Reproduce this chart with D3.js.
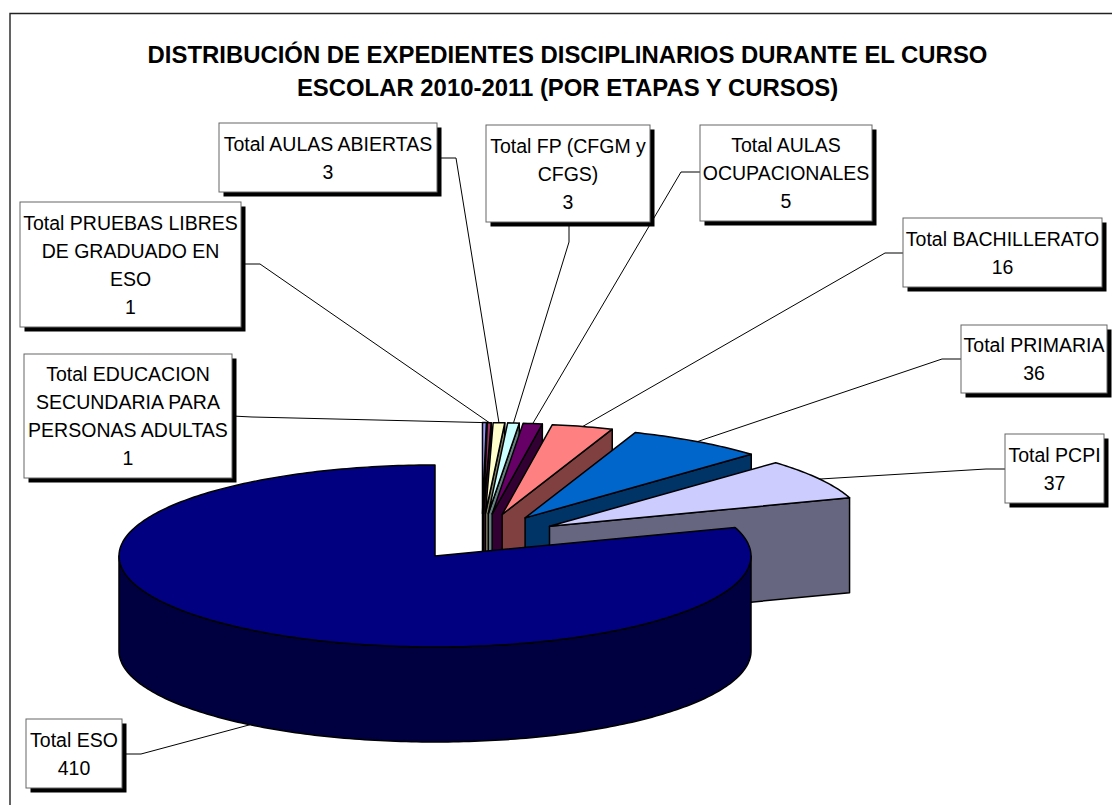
<!DOCTYPE html>
<html><head><meta charset="utf-8">
<script src="https://d3js.org/d3.v7.min.js"></script>
<style>html,body{margin:0;padding:0;background:#fff}svg{display:block}text{font-family:"Liberation Sans",Arial,sans-serif;fill:#000}</style>
</head><body><svg id="c" width="1112" height="805"></svg>
<script>
const titleLines = ["DISTRIBUCIÓN DE EXPEDIENTES DISCIPLINARIOS DURANTE EL CURSO","ESCOLAR 2010-2011 (POR ETAPAS Y CURSOS)"];
const categories = ["Total EDUCACION SECUNDARIA PARA PERSONAS ADULTAS","Total PRUEBAS LIBRES DE GRADUADO EN ESO","Total AULAS ABIERTAS","Total FP (CFGM y CFGS)","Total AULAS OCUPACIONALES","Total BACHILLERATO","Total PRIMARIA","Total PCPI","Total ESO"];
const values = [1,1,3,3,5,16,36,37,410];
const wrappedLabels = [["Total EDUCACION","SECUNDARIA PARA","PERSONAS ADULTAS"],["Total PRUEBAS LIBRES","DE GRADUADO EN","ESO"],["Total AULAS ABIERTAS"],["Total FP (CFGM y","CFGS)"],["Total AULAS","OCUPACIONALES"],["Total BACHILLERATO"],["Total PRIMARIA"],["Total PCPI"],["Total ESO"]];
const topColors = ["#9999FF","#993366","#FFFFCC","#CCFFFF","#660066","#FF8080","#0066CC","#CCCCFF","#000080"];
const sideColors = ["#4D4D80","#4D1A33","#808066","#668080","#330033","#804040","#003366","#666680","#000040"];
// label layout: [x0,y0,x1,y1] of box; leader start and elbow
const labelBoxes = [[24,354,232,478],[20,202,241,327],[219,123,437,192],[486,125,650,222],[700,125,872,221],[903,218,1102,287],[961,325,1107,393],[1005,434,1104,503],[26,719,122,788]];
const leaderStubs = [[[232,416],[252,417]],[[241,264],[260,264]],[[437,158],[456,158]],[[569,222],[569,242]],[[700,172],[681,172]],[[903,253],[885,253]],[[961,359],[942,359]],[[1005,469],[986,469]],[[122,754],[141,754]]];

const W=1112,H=805;
const svg=d3.select("#c");
svg.append("rect").attr("width",W).attr("height",H).attr("fill","#fff");
svg.append("path").attr("d",`M10,${H}V13.5H${W}`).attr("fill","none").attr("stroke","#222").attr("stroke-width",1.4);

svg.selectAll("text.title").data(titleLines).join("text").attr("class","title")
  .attr("x",567.5).attr("y",(d,i)=>63+i*33).attr("text-anchor","middle")
  .attr("font-size",23.9).attr("font-weight","bold").text(d=>d);

// projection: unit circle coordinates -> tilted ellipse
const X=d3.scaleLinear().domain([-1,1]).range([119,751]);
const Y=d3.scaleLinear().domain([-1,1]).range([647,465]);
const depth=95, mainIdx=categories.indexOf("Total ESO");
const groupU=47/316, groupV=16/91, explodeU=0.25, explodeV=0.29;

const arcs=d3.pie().sort(null).startAngle(0).endAngle(2*Math.PI)(values);
function centre(d){
  if(d.index===mainIdx) return [0,0];
  const m=(d.startAngle+d.endAngle)/2;
  return [groupU+explodeU*Math.sin(m), groupV+explodeV*Math.cos(m)];
}
function pt(d,a,dz=0){const [u,v]=centre(d);return [X(u+Math.sin(a)),Y(v+Math.cos(a))+dz];}
function apex(d,dz=0){const [u,v]=centre(d);return [X(u),Y(v)+dz];}
function rim(d,a0,a1,dz=0){const n=Math.max(2,Math.ceil((a1-a0)*60));return d3.range(n+1).map(i=>pt(d,a0+(a1-a0)*i/n,dz));}
const line=d3.line();
const g=svg.append("g").attr("stroke","#000").attr("stroke-width",1.5).attr("stroke-linejoin","round");
arcs.forEach((d,i)=>{
  const dark=sideColors[i], top=topColors[i];
  const s=d.startAngle,e=d.endAngle;
  if(e<Math.PI) g.append("path").attr("fill",dark).attr("d",line([apex(d),pt(d,e),pt(d,e,depth),apex(d,depth)])+"Z");
  if(s>Math.PI) g.append("path").attr("fill",dark).attr("d",line([apex(d),pt(d,s),pt(d,s,depth),apex(d,depth)])+"Z");
  const r0=Math.max(s,Math.PI/2), r1=Math.min(e,1.5*Math.PI);
  if(r1>r0) g.append("path").attr("fill",dark).attr("d",line(rim(d,r0,r1).concat(rim(d,r0,r1,depth).reverse()))+"Z");
  g.append("path").attr("fill",top).attr("d",line([apex(d)].concat(rim(d,s,e)))+"Z");
});

// leaders
arcs.forEach((d,i)=>{
  const m=(d.startAngle+d.endAngle)/2;
  const end=pt(d,m,i===mainIdx?depth:0);
  svg.append("path").attr("fill","none").attr("stroke","#000").attr("stroke-width",1)
    .attr("d",line(leaderStubs[i].concat([end])));
});
// labels
categories.forEach((c,i)=>{
  const [x0,y0,x1,y1]=labelBoxes[i];
  const lab=svg.append("g");
  lab.append("rect").attr("x",x0+4.5).attr("y",y0+4.5).attr("width",x1-x0).attr("height",y1-y0).attr("fill","#000");
  lab.append("rect").attr("x",x0).attr("y",y0).attr("width",x1-x0).attr("height",y1-y0).attr("fill","#fff").attr("stroke","#666").attr("stroke-width",1);
  const lines=wrappedLabels[i].concat([String(values[i])]);
  const cy=(y0+y1)/2, cx=(x0+x1)/2;
  lines.forEach((t,k)=>{
    lab.append("text").attr("x",cx).attr("y",cy+(k-(lines.length-1)/2)*28+7)
      .attr("text-anchor","middle").attr("font-size",19.5).text(t);
  });
});
</script></body></html>
